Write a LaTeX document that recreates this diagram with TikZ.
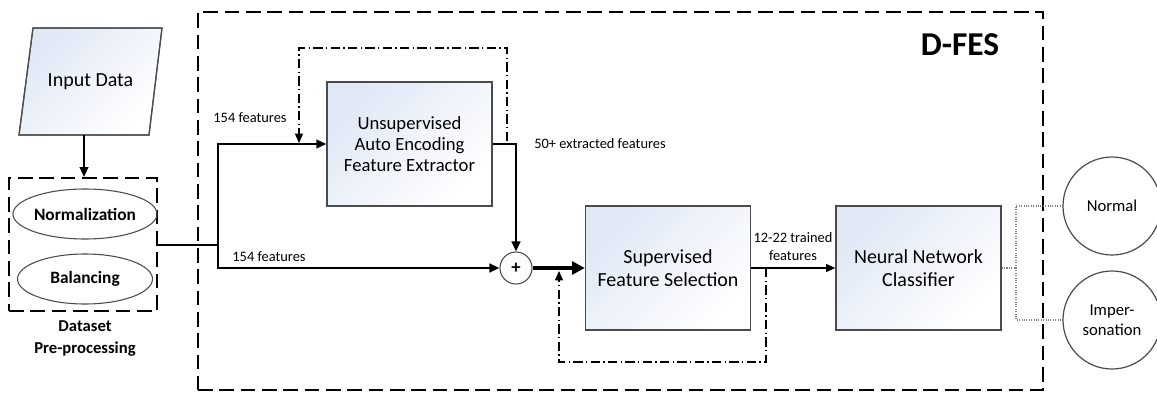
\documentclass[tikz,border=0pt]{standalone}
\usepackage{fontspec}
\setmainfont{Carlito}
\usetikzlibrary{arrows.meta,shapes.geometric}
\definecolor{boxblue}{RGB}{224,232,246}
\definecolor{edgegray}{RGB}{75,75,75}
\begin{document}
\begin{tikzpicture}[x=0.75pt, y=-0.75pt,
	block/.style={draw=edgegray, line width=1pt, top color=boxblue, bottom color=white, shading angle=45,
		minimum width=123.75pt, minimum height=93pt, align=center, font=\fontsize{15}{17.5}\selectfont},
	datain/.style={draw=edgegray, line width=0.9pt, top color=boxblue, bottom color=white, shading angle=45},
	groupbox/.style={draw, line width=1.5pt, dash pattern=on 11pt off 5pt},
	stepell/.style={ellipse, draw=edgegray, line width=0.8pt, minimum width=101.25pt, minimum height=37.5pt,
		inner sep=0pt, font=\fontsize{13}{15}\selectfont\bfseries},
	outcircle/.style={circle, draw=edgegray, line width=0.9pt, minimum size=73.5pt, inner sep=0pt,
		align=center, font=\fontsize{12.5}{15}\selectfont},
	sumnode/.style={circle, draw=edgegray, line width=0.8pt, fill=white, minimum size=24pt, inner sep=0pt,
		font=\fontsize{14}{14}\selectfont\bfseries},
	lab/.style={font=\fontsize{10.8}{13.5}\selectfont},
	arr/.style={line width=1.5pt, -{Triangle[length=7.5pt, width=6.5pt]}},
	bigarr/.style={line width=2.3pt, -{Triangle[length=9.5pt, width=9.5pt]}},
	thinarr/.style={line width=0.8pt, -{Triangle[length=7pt, width=6pt]}},
	fback/.style={line width=0.9pt, dash pattern=on 7pt off 2.5pt on 1pt off 2.5pt},
	dotline/.style={line width=0.8pt, densely dotted, gray}]

	\useasboundingbox (0,0) rectangle (1157,393);

%groups
	\node[groupbox, minimum width=633.75pt, minimum height=283.5pt] (dfes) at (620.5,201) {};
	\node[font=\fontsize{25}{30}\selectfont\bfseries] (dfeslab) at (960,45) {D-FES};

	\node[groupbox, minimum width=111pt, minimum height=99.75pt] (pre) at (83,244.5) {};
	\node[align=center, font=\fontsize{12.5}{16.5}\selectfont\bfseries] (prelab) at (85,339) {Dataset\\Pre-processing};

%blocks
	\shade[datain] (33,28) -- (162,28) -- (149,135) -- (19,135) -- cycle;
	\draw[datain, shade=false] (33,28) -- (162,28) -- (149,135) -- (19,135) -- cycle;
	\node[font=\fontsize{15}{17.5}\selectfont] (input) at (90.5,81.5) {Input Data};
	\coordinate (inputbot) at (84,135);

	\foreach \y/\name/\txt in {214/norm/Normalization, 279/bal/Balancing}{
		\node[stepell] (\name) at (85,\y) {\txt};
	}

	\node[block, font=\fontsize{14}{15.75}\selectfont] (ae) at (409.5,144) {Unsupervised\\Auto Encoding\\Feature Extractor};
	\node[sumnode] (plus) at (516,268) {+};
	\node[block] (sfs) at (668,268) {Supervised\\Feature Selection};
	\node[block] (nn) at (918.5,268) {Neural Network\\Classifier};

	\foreach \y/\name/\txt in {206/normal/Normal, 320/imper/{Imper-\\sonation}}{
		\node[outcircle] (\name) at (1112,\y) {\txt};
	}

%connections
	\coordinate (split) at (218,244.5);
	\coordinate (fork) at (1016,268);

	\draw[arr] (inputbot) -- (inputbot |- pre.north);
	\draw[line width=1.5pt] (pre.east) -- (split);
	\draw[arr] (split) |- (ae.west);
	\draw[arr] (split) |- (plus.west);
	\draw[arr] (ae.east) -| (plus.north);
	\draw[bigarr] (plus.east) -- (sfs.west);
	\draw[thinarr] (sfs.east) -- (nn.west);

	\draw[dotline] (nn.east) -- (fork);
	\draw[dotline] (fork) |- (normal.west);
	\draw[dotline] (fork) |- (imper.west);

%feedback
	\coordinate (aeback) at (507,141);
	\coordinate (aein) at (299,143);
	\coordinate (sfsback) at (766,268);
	\coordinate (sfsin) at (559,271);

	\draw[fback, -{Triangle[length=7pt, width=6pt]}] (aeback) -- ++(0,-93) -| (aein);
	\draw[fback, -{Triangle[length=7pt, width=6pt]}] (sfsback) -- ++(0,94) -| (sfsin);

%labels
	\node[lab] (lfeattop) at (250,118) {154 features};
	\node[lab] (lfeatlow) at (269,257) {154 features};
	\node[lab] (lextract) at (600,144) {50+ extracted features};
	\node[lab, align=center] (ltrain) at (793,247) {12-22 trained\\features};

\end{tikzpicture}
\end{document}
